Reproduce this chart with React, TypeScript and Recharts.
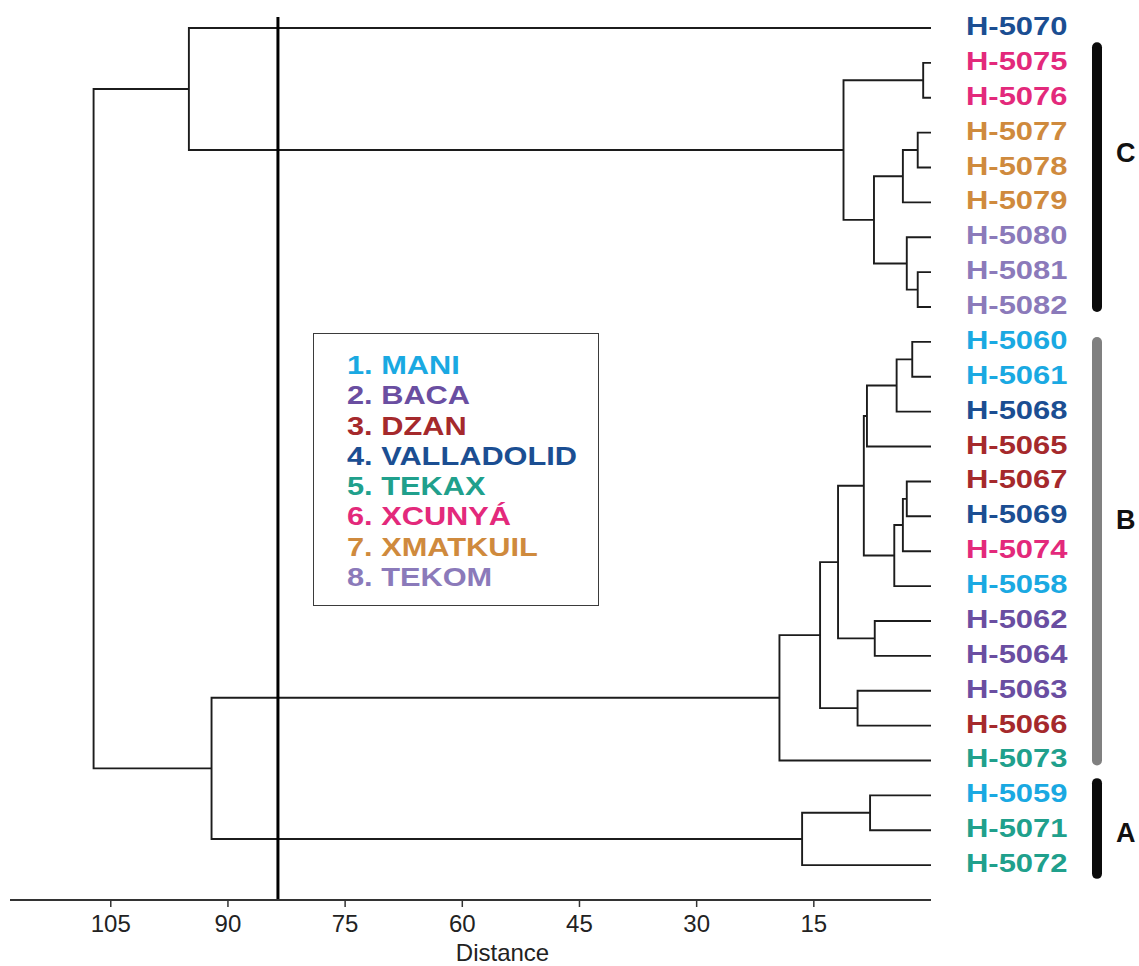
import React from 'react';
import { ComposedChart, Line, XAxis, YAxis, ReferenceLine, ReferenceDot, Legend, Label } from 'recharts';

const FONT = '"Liberation Sans", Arial, Helvetica, sans-serif';

// leaves, top to bottom
const leafNames = [
  'H-5070', 'H-5075', 'H-5076', 'H-5077', 'H-5078', 'H-5079', 'H-5080', 'H-5081', 'H-5082',
  'H-5060', 'H-5061', 'H-5068', 'H-5065', 'H-5067', 'H-5069', 'H-5074', 'H-5058',
  'H-5062', 'H-5064', 'H-5063', 'H-5066', 'H-5073', 'H-5059', 'H-5071', 'H-5072',
];
// index into regionNames for every leaf
const leafRegion = [3, 5, 5, 6, 6, 6, 7, 7, 7, 0, 0, 3, 2, 2, 3, 5, 0, 1, 1, 1, 2, 4, 0, 4, 4];

const regionNames = ['1. MANI', '2. BACA', '3. DZAN', '4. VALLADOLID', '5. TEKAX', '6. XCUNYÁ', '7. XMATKUIL', '8. TEKOM'];
const regionColors = ['#1aa9e2', '#6a4ea1', '#a5292c', '#1b4e92', '#20a08c', '#e3297b', '#cf8a3d', '#8b7aba'];

// merges: [child a, child b, distance]; "mN" is the N-th merge
const merges: [string, string, number][] = [
  ['H-5075', 'H-5076', 1.0],
  ['H-5077', 'H-5078', 1.7],
  ['m1', 'H-5079', 3.6],
  ['H-5081', 'H-5082', 1.7],
  ['H-5080', 'm3', 3.1],
  ['m2', 'm4', 7.3],
  ['m0', 'm5', 11.2],
  ['H-5070', 'm6', 95.0],
  ['H-5060', 'H-5061', 2.4],
  ['m8', 'H-5068', 4.4],
  ['m9', 'H-5065', 8.2],
  ['H-5067', 'H-5069', 3.1],
  ['m11', 'H-5074', 3.6],
  ['m12', 'H-5058', 4.7],
  ['m10', 'm13', 8.6],
  ['H-5062', 'H-5064', 7.2],
  ['m14', 'm15', 11.9],
  ['H-5063', 'H-5066', 9.4],
  ['m16', 'm17', 14.2],
  ['m18', 'H-5073', 19.4],
  ['H-5059', 'H-5071', 7.8],
  ['m20', 'H-5072', 16.5],
  ['m19', 'm21', 92.1],
  ['m7', 'm22', 107.2],
];

const distanceTicks = [105, 90, 75, 60, 45, 30, 15];
const cutDistance = 83.6;

// cluster bars on the right, spans in leaf rows
const groupNames = ['C', 'B', 'A'];
const groupSpan = [[0.55, 8.0], [9.0, 21.0], [21.65, 24.25]];
const groupLabelAt = [3.56, 14.1, 23.05];
const groupColors = ['#0b0b0b', '#808080', '#0b0b0b'];

const GROUP_BAR_X = -21.25;

type Pt = { d: number; y: number };

function buildSegments(): Pt[][] {
  const pos: Record<string, Pt> = {};
  leafNames.forEach((n, i) => { pos[n] = { d: 0, y: i }; });
  return merges.map(([a, b, h], i) => {
    const pa = pos[a];
    const pb = pos[b];
    pos['m' + i] = { d: h, y: (pa.y + pb.y) / 2 };
    return [
      { d: pa.d, y: pa.y },
      { d: h, y: pa.y },
      { d: h, y: pb.y },
      { d: pb.d, y: pb.y },
    ];
  });
}

const segments = buildSegments();

function LeafTick({ x, y, payload }: any) {
  const i = payload.value as number;
  return (
    <text
      transform={`translate(${x},${y + 7}) scale(1.19,1)`}
      fill={regionColors[leafRegion[i]]}
      fontSize={26}
      fontWeight={700}
      fontFamily={FONT}
    >
      {leafNames[i]}
    </text>
  );
}

function RegionKey() {
  return (
    <div
      style={{
        width: 286,
        height: 273,
        boxSizing: 'border-box',
        border: '1px solid #3b3b3b',
        background: '#fff',
        padding: '16px 0 0 33px',
        fontFamily: FONT,
      }}
    >
      {regionNames.map((n, i) => (
        <div
          key={n}
          style={{
            color: regionColors[i],
            fontSize: 25,
            fontWeight: 700,
            lineHeight: '30.3px',
            whiteSpace: 'nowrap',
            transform: 'scaleX(1.23)',
            transformOrigin: 'left center',
          }}
        >
          {n}
        </div>
      ))}
    </div>
  );
}

function DistanceLabel(props: any) {
  const vb = props.viewBox;
  return (
    <text x={vb.x + vb.width / 2 + 32} y={vb.y + vb.height - 5} textAnchor="middle" fontSize={24} fill="#222" fontFamily={FONT}>
      Distance
    </text>
  );
}

export default function App() {
  return (
    <div style={{ position: 'absolute', left: 0, top: 0, background: '#fff' }}>
      <ComposedChart width={1139} height={966} margin={{ top: 17, right: 0, bottom: 0, left: 10 }}>
        <XAxis
          type="number"
          dataKey="d"
          domain={[0, 117.9]}
          allowDataOverflow
          reversed
          ticks={distanceTicks}
          interval={0}
          height={66}
          tickSize={7}
          tickMargin={8}
          axisLine={{ stroke: '#333', strokeWidth: 2 }}
          tickLine={{ stroke: '#333', strokeWidth: 1.5 }}
          tick={{ fontSize: 24, fill: '#222', fontFamily: FONT }}
        >
          <Label content={<DistanceLabel />} />
        </XAxis>
        <YAxis
          type="number"
          orientation="right"
          reversed
          domain={[-0.315, 25]}
          allowDataOverflow
          ticks={leafNames.map((_, i) => i)}
          interval={0}
          width={208}
          axisLine={false}
          tickLine={false}
          tickSize={0}
          tickMargin={35}
          tick={<LeafTick />}
        />
        <Legend
          content={<RegionKey />}
          layout="horizontal"
          verticalAlign="middle"
          align="center"
          wrapperStyle={{ left: 313, top: 333, width: 286, height: 273 }}
        />
        {segments.map((seg, i) => (
          <Line
            key={i}
            data={seg}
            dataKey="y"
            type="linear"
            stroke="#1c1c1c"
            strokeWidth={1.9}
            dot={false}
            activeDot={false}
            legendType="none"
            isAnimationActive={false}
          />
        ))}
        <ReferenceLine x={cutDistance} stroke="#000" strokeWidth={3} />
        {groupNames.map((g, i) => (
          <ReferenceLine
            key={g}
            segment={[{ x: GROUP_BAR_X, y: groupSpan[i][0] }, { x: GROUP_BAR_X, y: groupSpan[i][1] }]}
            stroke={groupColors[i]}
            strokeWidth={10}
            strokeLinecap="round"
            ifOverflow="visible"
          />
        ))}
        {groupNames.map((g, i) => (
          <ReferenceDot
            key={'l' + g}
            x={GROUP_BAR_X}
            y={groupLabelAt[i]}
            r={1}
            fill="none"
            stroke="none"
            ifOverflow="visible"
            label={{ value: g, position: 'right', offset: 18, fontSize: 27, fontWeight: 700, fill: '#111', fontFamily: FONT }}
          />
        ))}
      </ComposedChart>
    </div>
  );
}
